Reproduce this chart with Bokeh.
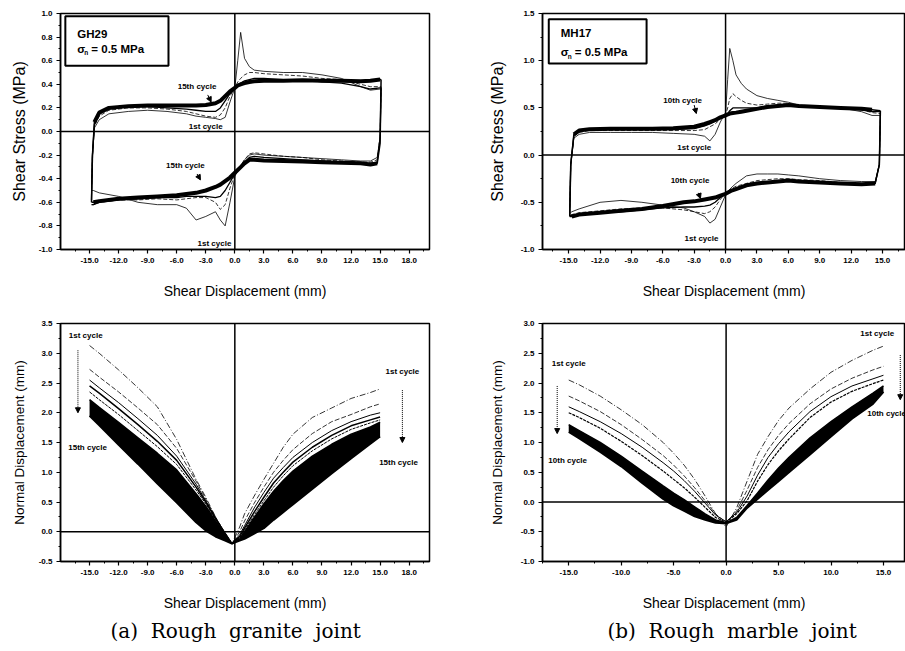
from bokeh.plotting import figure
from bokeh.models import (Range1d, FixedTicker, PrintfTickFormatter, Span, Arrow,
                          NormalHead, Label, BoxAnnotation, Title)
from bokeh.layouts import column, row
from bokeh.embed import file_html
from bokeh.resources import INLINE

# ---------------- tick labels ----------------
GRANITE_X_TICKS = [-15, -12, -9, -6, -3, 0, 3, 6, 9, 12, 15, 18]
MARBLE_STRESS_X_TICKS = [-15, -12, -9, -6, -3, 0, 3, 6, 9, 12, 15]
MARBLE_NORMAL_X_TICKS = [-15, -10, -5, 0, 5, 10, 15]
GRANITE_STRESS_Y_TICKS = [-1.0, -0.8, -0.6, -0.4, -0.2, 0.0, 0.2, 0.4, 0.6, 0.8, 1.0]
MARBLE_STRESS_Y_TICKS = [-1.0, -0.5, 0.0, 0.5, 1.0, 1.5]
GRANITE_NORMAL_Y_TICKS = [-0.5, 0.0, 0.5, 1.0, 1.5, 2.0, 2.5, 3.0, 3.5]
MARBLE_NORMAL_Y_TICKS = [-1.0, -0.5, 0.0, 0.5, 1.0, 1.5, 2.0, 2.5, 3.0]

# ---------------- (a) granite: shear stress loops ----------------
GX_F = [-14.8, -14.7, -14.5, -14, -13, -11, -9, -7, -5, -4, -3, -2, -1.5, -1, -0.5,
        0, 0.3, 0.6, 1, 1.5, 2, 3, 5, 7, 9, 11, 13, 14, 15, 15.1]
GS_F_1 = [-0.5, -0.2, 0.03, 0.1, 0.15, 0.17, 0.18, 0.17, 0.15, 0.13, 0.12, 0.11, 0.1, 0.12, 0.25,
          0.37, 0.6, 0.84, 0.62, 0.55, 0.52, 0.51, 0.5, 0.5, 0.48, 0.45, 0.38, 0.35, 0.36, 0.36]
GS_F_2 = [-0.55, -0.2, 0.05, 0.13, 0.18, 0.2, 0.2, 0.19, 0.17, 0.15, 0.13, 0.12, 0.14, 0.2, 0.3,
          0.37, 0.42, 0.45, 0.48, 0.5, 0.5, 0.49, 0.48, 0.47, 0.45, 0.44, 0.4, 0.38, 0.38, 0.38]
GS_F_4 = [-0.58, -0.2, 0.06, 0.15, 0.2, 0.21, 0.21, 0.2, 0.19, 0.18, 0.17, 0.17, 0.2, 0.26, 0.32,
          0.37, 0.39, 0.41, 0.43, 0.44, 0.45, 0.45, 0.44, 0.44, 0.42, 0.41, 0.38, 0.36, 0.37, 0.37]
GS_F_15 = [-0.6, -0.2, 0.08, 0.16, 0.2, 0.215, 0.22, 0.22, 0.22, 0.22, 0.225, 0.24, 0.26, 0.3, 0.34,
           0.37, 0.39, 0.4, 0.41, 0.42, 0.425, 0.43, 0.43, 0.435, 0.43, 0.43, 0.425, 0.43, 0.44, 0.44]
GX_R = [15.1, 15.0, 14.7, 14, 13, 11, 9, 7, 5, 3, 2, 1.5, 1, 0.5, 0, -0.5, -1, -1.5, -2, -3,
        -4, -5, -6, -8, -10, -12, -14, -14.6, -14.8]
GS_R_1 = [0.36, -0.05, -0.22, -0.25, -0.25, -0.24, -0.23, -0.22, -0.21, -0.2, -0.19, -0.2, -0.24,
          -0.3, -0.38, -0.6, -0.8, -0.75, -0.68, -0.72, -0.75, -0.65, -0.62, -0.62, -0.6, -0.55,
          -0.52, -0.5, -0.5]
GS_R_2 = [0.38, -0.05, -0.24, -0.26, -0.26, -0.25, -0.24, -0.22, -0.21, -0.19, -0.18, -0.19, -0.24,
          -0.3, -0.36, -0.48, -0.62, -0.66, -0.6, -0.56, -0.56, -0.57, -0.58, -0.57, -0.58, -0.58,
          -0.6, -0.62, -0.62]
GS_R_4 = [0.37, -0.05, -0.26, -0.27, -0.27, -0.26, -0.25, -0.24, -0.23, -0.22, -0.21, -0.22, -0.26,
          -0.31, -0.36, -0.43, -0.5, -0.55, -0.56, -0.55, -0.55, -0.55, -0.56, -0.56, -0.57, -0.58,
          -0.6, -0.62, -0.62]
GS_R_15 = [0.44, -0.1, -0.27, -0.28, -0.27, -0.265, -0.26, -0.255, -0.25, -0.245, -0.24, -0.24,
           -0.27, -0.31, -0.35, -0.39, -0.42, -0.45, -0.47, -0.5, -0.52, -0.53, -0.54, -0.55,
           -0.56, -0.57, -0.59, -0.6, -0.6]

# ---------------- (b) marble: shear stress loops ----------------
MX_F = [-14.9, -14.8, -14.5, -14, -13, -11, -9, -7, -5, -3, -2, -1.5, -1, -0.5, 0, 0.2, 0.4,
        0.7, 1, 1.5, 2, 3, 4, 5, 6, 7, 9, 11, 13, 14, 14.8]
MS_F_1 = [-0.6, -0.1, 0.18, 0.22, 0.24, 0.24, 0.24, 0.24, 0.23, 0.22, 0.2, 0.15, 0.22, 0.35, 0.45,
          0.8, 1.13, 1.0, 0.85, 0.76, 0.7, 0.63, 0.6, 0.58, 0.56, 0.53, 0.51, 0.5, 0.46, 0.42, 0.42]
MS_F_2 = [-0.62, -0.1, 0.2, 0.24, 0.26, 0.26, 0.26, 0.26, 0.26, 0.26, 0.27, 0.3, 0.33, 0.38, 0.42,
          0.5, 0.6, 0.65, 0.62, 0.58, 0.55, 0.53, 0.54, 0.55, 0.55, 0.53, 0.51, 0.5, 0.48, 0.45, 0.44]
MS_F_4 = [-0.64, -0.1, 0.21, 0.25, 0.27, 0.27, 0.27, 0.27, 0.27, 0.28, 0.31, 0.33, 0.36, 0.39, 0.42,
          0.44, 0.47, 0.5, 0.5, 0.5, 0.5, 0.5, 0.52, 0.53, 0.53, 0.52, 0.51, 0.5, 0.48, 0.46, 0.46]
MS_F_10 = [-0.65, -0.1, 0.22, 0.26, 0.275, 0.28, 0.28, 0.28, 0.285, 0.3, 0.33, 0.35, 0.37, 0.4, 0.42,
           0.43, 0.44, 0.445, 0.45, 0.46, 0.47, 0.49, 0.51, 0.52, 0.53, 0.52, 0.51, 0.5, 0.49, 0.48,
           0.47]
MX_R = [14.8, 14.7, 14.3, 13, 11, 9, 7, 6, 5, 4, 3, 2, 1, 0.5, 0, -0.5, -1, -1.5, -2, -3, -4,
        -6, -8, -10, -12, -14, -14.7, -14.9]
MS_R_1 = [0.42, -0.1, -0.28, -0.28, -0.27, -0.25, -0.22, -0.21, -0.2, -0.2, -0.2, -0.22, -0.3,
          -0.35, -0.42, -0.55, -0.68, -0.72, -0.65, -0.6, -0.56, -0.53, -0.5, -0.48, -0.5, -0.57,
          -0.6, -0.62]
MS_R_2 = [0.44, -0.1, -0.3, -0.3, -0.29, -0.27, -0.26, -0.25, -0.25, -0.26, -0.27, -0.3, -0.33,
          -0.36, -0.4, -0.47, -0.55, -0.6, -0.62, -0.6, -0.58, -0.56, -0.56, -0.57, -0.59, -0.61,
          -0.63, -0.64]
MS_R_4 = [0.46, -0.1, -0.3, -0.31, -0.3, -0.29, -0.28, -0.27, -0.28, -0.28, -0.29, -0.31, -0.35,
          -0.38, -0.41, -0.45, -0.5, -0.53, -0.54, -0.55, -0.55, -0.56, -0.58, -0.6, -0.61, -0.63,
          -0.64, -0.64]
MS_R_10 = [0.47, -0.1, -0.3, -0.31, -0.3, -0.29, -0.28, -0.27, -0.28, -0.29, -0.3, -0.32, -0.36,
           -0.38, -0.41, -0.43, -0.45, -0.46, -0.47, -0.49, -0.5, -0.54, -0.57, -0.59, -0.61,
           -0.63, -0.65, -0.65]

# ---------------- (a) granite: normal displacement ----------------
GN_X = [-15, -14, -12, -10, -8, -6, -4, -3, -2, -1, -0.3, 0.5, 1, 2, 3, 4, 5, 6, 8, 10, 12, 14, 15]
GN_C1 = [3.13, 3.0, 2.72, 2.42, 2.1, 1.55, 0.88, 0.58, 0.25, -0.05, -0.2, 0.08, 0.3, 0.6, 0.88,
         1.15, 1.42, 1.64, 1.92, 2.08, 2.24, 2.34, 2.4]
GN_C2 = [2.73, 2.6, 2.35, 2.08, 1.8, 1.4, 0.85, 0.55, 0.25, -0.03, -0.2, 0.0, 0.18, 0.48, 0.75,
         1.0, 1.2, 1.38, 1.65, 1.85, 1.97, 2.1, 2.15]
GN_C3 = [2.55, 2.42, 2.17, 1.9, 1.62, 1.27, 0.8, 0.52, 0.24, -0.02, -0.2, -0.05, 0.1, 0.4, 0.66,
         0.9, 1.08, 1.25, 1.5, 1.7, 1.85, 1.96, 2.0]
GN_C4 = [2.45, 2.33, 2.07, 1.8, 1.52, 1.2, 0.75, 0.5, 0.22, -0.03, -0.2, -0.08, 0.06, 0.33, 0.58,
         0.82, 1.0, 1.17, 1.42, 1.62, 1.78, 1.88, 1.93]
GN_C5 = [2.35, 2.22, 1.97, 1.7, 1.43, 1.13, 0.7, 0.47, 0.2, -0.04, -0.2, -0.1, 0.03, 0.28, 0.52,
         0.75, 0.94, 1.11, 1.36, 1.56, 1.72, 1.83, 1.88]
GN_C7 = [2.22, 2.09, 1.84, 1.58, 1.32, 1.04, 0.64, 0.43, 0.18, -0.05, -0.2, -0.12, 0.0, 0.24, 0.47,
         0.68, 0.86, 1.02, 1.27, 1.47, 1.64, 1.76, 1.84]
GN_C15 = [1.95, 1.79, 1.46, 1.14, 0.81, 0.49, 0.16, 0.02, -0.08, -0.15, -0.2, -0.15, -0.12, -0.03,
          0.06, 0.2, 0.33, 0.46, 0.72, 0.98, 1.23, 1.48, 1.6]

# ---------------- (b) marble: normal displacement ----------------
MN_X = [-15, -14, -12, -10, -8, -6, -5, -4, -3, -2, -1, 0, 1, 2, 3, 4, 5, 6, 8, 10, 12, 14, 15]
MN_C1 = [2.05, 1.97, 1.78, 1.55, 1.3, 1.0, 0.82, 0.62, 0.38, 0.1, -0.2, -0.42, -0.1, 0.35, 0.8,
         1.1, 1.37, 1.58, 1.9, 2.18, 2.38, 2.55, 2.62]
MN_C2 = [1.78, 1.7, 1.52, 1.3, 1.05, 0.78, 0.62, 0.44, 0.24, 0.02, -0.2, -0.35, -0.15, 0.2, 0.58,
         0.88, 1.12, 1.32, 1.65, 1.9, 2.08, 2.22, 2.28]
MN_C3 = [1.6, 1.52, 1.35, 1.15, 0.92, 0.66, 0.52, 0.36, 0.18, -0.02, -0.22, -0.33, -0.18, 0.1, 0.45,
         0.75, 0.98, 1.18, 1.52, 1.77, 1.95, 2.07, 2.13]
MN_C4 = [1.5, 1.42, 1.24, 1.02, 0.78, 0.52, 0.38, 0.24, 0.08, -0.09, -0.26, -0.34, -0.2, 0.02, 0.35,
         0.63, 0.86, 1.06, 1.42, 1.68, 1.86, 1.99, 2.05]
MN_C6 = [1.3, 1.2, 1.0, 0.77, 0.52, 0.27, 0.15, 0.04, -0.08, -0.2, -0.3, -0.35, -0.26, -0.06,
         0.15, 0.37, 0.57, 0.75, 1.08, 1.35, 1.6, 1.83, 1.95]
MN_C10 = [1.18, 1.07, 0.84, 0.6, 0.32, 0.05, -0.06, -0.15, -0.24, -0.3, -0.35, -0.36, -0.3, -0.1,
          0.05, 0.2, 0.35, 0.5, 0.8, 1.1, 1.4, 1.65, 1.85]

FONT = "Liberation Sans"


def minor_between(ticks):
    step = ticks[1] - ticks[0]
    out = [ticks[0] - step / 2]
    for a, b in zip(ticks[:-1], ticks[1:]):
        out.append((a + b) / 2)
    out.append(ticks[-1] + step / 2)
    return out


def make_fig(w, h, xr, yr, xt, yt, ylab, borders, ylab_standoff):
    left, right, top, bottom = borders
    p = figure(width=w, height=h, x_range=Range1d(*xr), y_range=Range1d(*yr),
               output_backend="svg", toolbar_location=None,
               min_border_left=left, min_border_right=right,
               min_border_top=top, min_border_bottom=bottom)
    p.grid.visible = False
    p.outline_line_color = "black"
    p.outline_line_width = 1.5
    p.background_fill_color = "white"
    p.border_fill_color = "white"
    p.xaxis.ticker = FixedTicker(ticks=xt, minor_ticks=minor_between(xt))
    p.yaxis.ticker = FixedTicker(ticks=yt, minor_ticks=minor_between(yt))
    for ax in (p.xaxis, p.yaxis):
        ax.formatter = PrintfTickFormatter(format="%.1f")
        ax.axis_line_width = 1.5
        ax.axis_line_color = "black"
        ax.major_tick_out = 4
        ax.major_tick_in = 0
        ax.minor_tick_out = 2
        ax.minor_tick_in = 0
        ax.major_tick_line_width = 1.2
        ax.major_tick_line_color = "black"
        ax.minor_tick_line_color = "black"
        ax.major_label_text_font = FONT
        ax.major_label_text_font_style = "bold"
        ax.major_label_text_font_size = "8px"
        ax.major_label_text_color = "black"
        ax.major_label_standoff = 4
        ax.axis_label_text_font = FONT
        ax.axis_label_text_font_style = "normal"
        ax.axis_label_text_color = "black"
    p.xaxis.axis_label = "Shear Displacement (mm)"
    p.xaxis.axis_label_text_font_size = "14px"
    p.xaxis.axis_label_standoff = 17
    p.yaxis.axis_label = ylab
    p.yaxis.axis_label_standoff = ylab_standoff
    p.add_layout(Span(location=0, dimension="width", line_color="black", line_width=1.5))
    p.add_layout(Span(location=0, dimension="height", line_color="black", line_width=1.5))
    return p


def lab(p, x, y, text, size="8px", bold=True, align="center", xo=0, yo=0):
    p.add_layout(Label(x=x, y=y, text=text, text_font=FONT, text_font_size=size,
                       text_font_style="bold" if bold else "normal", text_align=align,
                       text_baseline="middle", x_offset=xo, y_offset=yo, text_color="black"))


def small_arrow(p, x0, y0, x1, y1, dash="solid"):
    p.add_layout(Arrow(end=NormalHead(size=5, fill_color="black", line_color="black"),
                       x_start=x0, y_start=y0, x_end=x1, y_end=y1,
                       line_color="black", line_width=1, line_dash=dash))


def legend_box(p, l, r, b, t, name, y1, y2):
    p.add_layout(BoxAnnotation(left=l, right=r, bottom=b, top=t, fill_alpha=0,
                               line_color="black", line_alpha=1.0, line_width=2))
    lab(p, l, y1, name, size="11.5px", align="left", xo=12)
    lab(p, l, y2, "\u03c3", size="11.5px", align="left", xo=12)
    lab(p, l, y2, "n", size="6.5px", align="left", xo=19, yo=-4)
    lab(p, l, y2, "= 0.5 MPa", size="11.5px", align="left", xo=26)


def caption(p, text, offset):
    p.add_layout(Title(text=text, align="left", text_font="DejaVu Serif",
                       text_font_size="20px", text_font_style="normal", text_color="black",
                       offset=offset, standoff=6), "below")


def loop(p, xf, yf, xr, yr, w, d):
    if w > 2:
        # thin vertical reversals, thick band for the flat parts
        p.line(xf, yf, line_color="black", line_width=1.5)
        p.line(xr, yr, line_color="black", line_width=1.5)
        p.line(xf[2:-1], yf[2:-1], line_color="black", line_width=w)
        p.line(xr[2:-1], yr[2:-1], line_color="black", line_width=w)
    else:
        p.line(xf, yf, line_color="black", line_width=w, line_dash=d)
        p.line(xr, yr, line_color="black", line_width=w, line_dash=d)


# ---------------- panel (a) top ----------------
pa = make_fig(452, 310, (-18.0, 20.1), (-1.0, 1.0), GRANITE_X_TICKS, GRANITE_STRESS_Y_TICKS,
              "Shear Stress (MPa)", (60, 23, 12, 60), 8)
pa.yaxis.axis_label_text_font_size = "16px"
for yf, yr, w, d in [(GS_F_1, GS_R_1, 0.8, "solid"), (GS_F_2, GS_R_2, 0.8, "4 2"),
                     (GS_F_4, GS_R_4, 1.3, "solid"), (GS_F_15, GS_R_15, 4, "solid")]:
    loop(pa, GX_F, yf, GX_R, yr, w, d)
legend_box(pa, -17.5, -6.85, 0.557, 0.977, "GH29", 0.826, 0.70)
lab(pa, -3.9, 0.38, "15th cycle")
small_arrow(pa, -2.8, 0.31, -2.45, 0.25)
lab(pa, -3.0, 0.04, "1st cycle")
lab(pa, -5.1, -0.29, "15th cycle")
small_arrow(pa, -3.9, -0.36, -3.55, -0.41)
lab(pa, -2.1, -0.945, "1st cycle")

# ---------------- panel (b) top ----------------
pb = make_fig(453, 310, (-17.5, 17.2), (-1.0, 1.5), MARBLE_STRESS_X_TICKS, MARBLE_STRESS_Y_TICKS,
              "Shear Stress (MPa)", (90, 0, 13, 61), 12)
pb.yaxis.axis_label_text_font_size = "16px"
for yf, yr, w, d in [(MS_F_1, MS_R_1, 0.8, "solid"), (MS_F_2, MS_R_2, 0.8, "4 2"),
                     (MS_F_4, MS_R_4, 1.3, "solid"), (MS_F_10, MS_R_10, 4, "solid")]:
    loop(pb, MX_F, yf, MX_R, yr, w, d)
legend_box(pb, -16.9, -7.55, 0.97, 1.44, "MH17", 1.29, 1.09)
lab(pb, -4.1, 0.58, "10th cycle")
small_arrow(pb, -3.0, 0.53, -2.8, 0.44)
lab(pb, -3.0, 0.08, "1st cycle")
lab(pb, -3.4, -0.27, "10th cycle")
small_arrow(pb, -2.6, -0.4, -2.4, -0.46)
lab(pb, -2.3, -0.88, "1st cycle")

# ---------------- panel (a) bottom ----------------
pc = make_fig(452, 341, (-18.0, 20.1), (-0.5, 3.5), GRANITE_X_TICKS, GRANITE_NORMAL_Y_TICKS,
              "Normal Displacement (mm)", (60, 23, 13, 90), 9)
pc.yaxis.axis_label_text_font_size = "13.5px"
pc.varea(x=GN_X, y1=GN_C15, y2=GN_C7, fill_color="black")
for yc, w, d in [(GN_C1, 0.8, "6 2 1 2"), (GN_C2, 0.8, "5 2"), (GN_C3, 1.0, "solid"),
                 (GN_C4, 1.5, "solid"), (GN_C5, 1.0, "3 1"), (GN_C7, 1.5, "solid"),
                 (GN_C15, 2.0, "solid")]:
    pc.line(GN_X, yc, line_color="black", line_width=w, line_dash=d)
lab(pc, -15.4, 3.3, "1st cycle")
small_arrow(pc, -16.2, 3.05, -16.2, 2.0, dash="1 1")
lab(pc, -15.2, 1.42, "15th cycle")
lab(pc, 17.3, 2.7, "1st cycle")
small_arrow(pc, 17.3, 2.38, 17.3, 1.5, dash="1 1")
lab(pc, 16.9, 1.17, "15th cycle")
caption(pc, "(a)\u00a0 Rough\u00a0 granite\u00a0 joint", 50)

# ---------------- panel (b) bottom ----------------
pd = make_fig(453, 341, (-17.5, 17.1), (-1.0, 3.0), MARBLE_NORMAL_X_TICKS, MARBLE_NORMAL_Y_TICKS,
              "Normal Displacement (mm)", (90, 0, 13, 90), 13)
pd.yaxis.axis_label_text_font_size = "13.5px"
pd.varea(x=MN_X, y1=MN_C10, y2=MN_C6, fill_color="black")
for yc, w, d in [(MN_C1, 0.8, "6 2 1 2"), (MN_C2, 0.8, "5 2"), (MN_C3, 1.0, "solid"),
                 (MN_C4, 1.2, "3 1"), (MN_C6, 1.5, "solid"), (MN_C10, 2.0, "solid")]:
    pd.line(MN_X, yc, line_color="black", line_width=w, line_dash=d)
lab(pd, -15.0, 2.33, "1st cycle")
small_arrow(pd, -16.1, 1.95, -16.1, 1.15, dash="1 1")
lab(pd, -15.1, 0.7, "10th cycle")
lab(pd, 14.4, 2.83, "1st cycle")
small_arrow(pd, 16.6, 2.47, 16.6, 1.72, dash="1 1")
lab(pd, 15.3, 1.48, "10th cycle")
caption(pd, "(b)\u00a0 Rough\u00a0 marble\u00a0 joint", 65)

layout = column(row(pa, pb), row(pc, pd))
open("out.html", "w").write(file_html(layout, INLINE))
